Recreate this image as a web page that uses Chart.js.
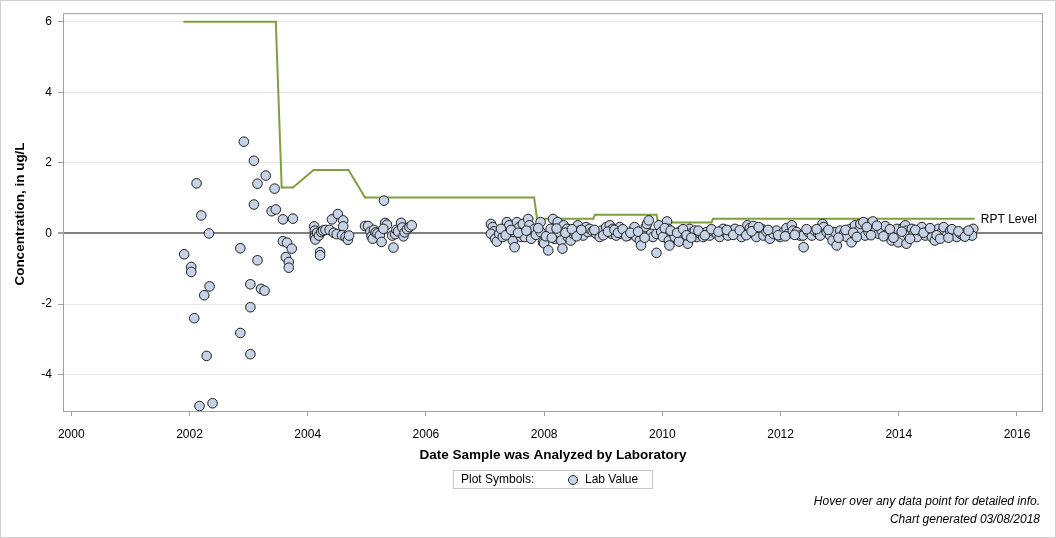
<!DOCTYPE html>
<html>
<head>
<meta charset="utf-8">
<script src="https://cdn.jsdelivr.net/npm/chart.js@4/dist/chart.umd.min.js"></script>
<style>
  html, body { margin: 0; padding: 0; background: #fff; }
  #wrap { width: 1056px; height: 538px; position: relative; }
</style>
</head>
<body>
<div id="wrap"><canvas id="chart" width="1056" height="538"></canvas></div>
<script>
'use strict';

// lab results: decimal year of analysis, concentration (ug/L)
const labDates = [
    2001.91, 2002.03, 2002.03, 2002.12, 2002.20, 2002.33, 2002.34, 2002.25, 2002.08, 2002.29, 2002.17, 2002.39,
    2002.92, 2003.09, 2003.29, 2003.15, 2003.44, 2003.09, 2003.39, 2003.46, 2003.58, 2003.75, 2002.86, 2003.15,
    2003.58, 2003.65, 2003.73, 2003.63, 2003.68, 2003.68, 2003.03, 2003.21, 2003.27, 2003.03, 2002.86, 2003.03,
    2004.11, 2004.12, 2004.12, 2004.12, 2004.13, 2004.21, 2004.21, 2004.16, 2004.19, 2004.23, 2004.26, 2004.30,
    2004.37, 2004.41, 2004.44, 2004.51, 2004.49, 2004.60, 2004.60, 2004.58, 2004.64, 2004.68, 2004.70,
    2004.97, 2005.02, 2005.06, 2005.08, 2005.10, 2005.12, 2005.15, 2005.18, 2005.22, 2005.25, 2005.29, 2005.31,
    2005.34, 2005.28, 2005.45, 2005.43, 2005.48, 2005.50, 2005.53, 2005.58, 2005.60, 2005.62, 2005.64, 2005.68,
    2005.72, 2005.76,
    2007.10, 2007.13, 2007.15, 2007.10, 2007.17, 2007.20, 2007.24, 2007.30, 2007.33, 2007.37, 2007.41, 2007.47,
    2007.50, 2007.49, 2007.54, 2007.58, 2007.61, 2007.67, 2007.64, 2007.73, 2007.75, 2007.78, 2007.84, 2007.86,
    2007.94, 2007.94, 2007.98, 2008.00, 2008.07, 2008.11, 2008.15, 2008.18, 2008.23, 2008.23, 2008.29, 2008.31,
    2008.33, 2008.39, 2008.40, 2008.45, 2008.49, 2008.51, 2008.57, 2008.60, 2008.66, 2008.71, 2008.74,
    2008.77, 2008.82, 2008.88, 2008.94, 2008.97, 2009.05, 2009.11, 2009.14, 2009.16, 2009.22, 2009.28, 2009.31,
    2009.36, 2009.42, 2009.50, 2009.53, 2009.56, 2009.62, 2009.64, 2009.67, 2009.72, 2009.74, 2009.77, 2009.81,
    2009.84, 2009.90, 2009.90, 2009.94, 2009.98, 2010.01, 2010.08, 2010.10, 2010.11, 2010.12, 2010.17, 2010.21,
    2010.28, 2010.32, 2010.38, 2010.43, 2010.46, 2010.52,
    2010.55, 2010.58, 2010.64, 2010.69, 2010.75, 2010.80, 2010.86, 2010.92, 2010.97, 2011.03, 2011.06, 2011.11,
    2011.17, 2011.23, 2011.28, 2011.34, 2011.39, 2011.44, 2011.48, 2011.54, 2011.56, 2011.59, 2011.68, 2011.71,
    2011.76, 2011.82, 2011.88, 2011.93, 2011.99, 2012.05, 2012.10, 2012.13, 2012.19, 2012.21, 2012.27, 2012.33,
    2012.38, 2012.39, 2012.47, 2012.53, 2012.58, 2012.64, 2012.67, 2012.71, 2012.73, 2012.78, 2012.84, 2012.88,
    2012.92, 2012.95, 2013.01, 2013.07, 2013.12, 2013.18, 2013.20, 2013.26, 2013.32, 2013.35, 2013.40, 2013.43,
    2013.49, 2013.56, 2013.60, 2013.66, 2013.71, 2013.77, 2013.82, 2013.88, 2013.94, 2013.97, 2013.99,
    2014.08, 2014.11, 2014.13, 2014.13, 2014.16, 2014.22, 2014.25, 2014.31, 2014.36, 2014.39, 2014.45, 2014.50,
    2014.56, 2014.61, 2014.67, 2014.73, 2014.76, 2014.81, 2014.87, 2014.93, 2014.98, 2015.04, 2015.09, 2015.15,
    2015.20, 2015.26, 2015.24,
    // overlapping circles inside the dense band
    2007.27, 2007.35, 2007.44, 2007.56, 2007.70, 2007.90, 2008.03, 2008.13, 2008.21, 2008.36, 2008.47, 2008.55,
    2008.63, 2008.85, 2009.00, 2009.08, 2009.19, 2009.25, 2009.33, 2009.39, 2009.46, 2009.59, 2009.70, 2010.04,
    2010.14, 2010.25, 2010.35, 2010.41, 2010.49, 2010.61, 2010.72, 2010.83, 2010.95, 2011.09, 2011.20, 2011.31,
    2011.42, 2011.51, 2011.63, 2011.79, 2011.96, 2012.08, 2012.24, 2012.44, 2012.61, 2012.81, 2012.98, 2013.10,
    2013.23, 2013.29, 2013.46, 2013.53, 2013.63, 2013.74, 2013.85, 2013.91, 2014.05, 2014.19, 2014.28, 2014.42,
    2014.53, 2014.64, 2014.70, 2014.84, 2014.90, 2015.01, 2015.12, 2015.18
];
const labValues = [
    -0.59, -0.95, -1.09, 1.42, 0.51, 0.00, -1.50, -1.75, -2.40, -3.47, -4.89, -4.81,
    2.60, 2.06, 1.64, 1.41, 1.27, 0.82, 0.63, 0.68, 0.40, 0.42, -0.42, -0.76,
    -0.22, -0.26, -0.43, -0.67, -0.81, -0.97, -1.44, -1.57, -1.62, -2.09, -2.82, -3.42,
    0.20, 0.08, -0.04, -0.10, -0.17, -0.53, -0.62, 0.02, -0.06, 0.04, 0.08, 0.10,
    0.10, 0.40, 0.02, 0.55, -0.02, 0.37, 0.20, -0.05, -0.10, -0.18, -0.06,
    0.21, 0.21, 0.05, -0.08, -0.15, 0.10, 0.03, 0.00, -0.05, -0.24, 0.93, 0.30,
    0.25, 0.13, -0.40, -0.06, -0.02, 0.10, 0.06, 0.30, 0.17, -0.08, 0.03, 0.12,
    0.18, 0.23,
    0.27, 0.18, 0.06, -0.01, -0.15, -0.23, -0.01, -0.10, 0.08, 0.32, 0.23, -0.20,
    -0.39, 0.04, 0.32, 0.18, -0.10, -0.10, 0.27, 0.41, 0.23, -0.15, 0.13, -0.04,
    0.32, 0.04, -0.25, -0.28, -0.48, 0.13, 0.41, -0.15, 0.32, 0.04, -0.20, -0.43,
    0.23, 0.13, -0.10, -0.20, -0.01, 0.04, 0.23, 0.08, -0.06, 0.18, 0.04,
    0.13, 0.06, -0.01, -0.10, 0.08, 0.18, 0.23, -0.01, 0.13, -0.06, 0.18, -0.01,
    0.04, -0.06, 0.08, 0.18, -0.10, -0.20, -0.34, -0.01, 0.18, 0.27, 0.37, -0.01,
    -0.10, -0.55, -0.01, 0.23, 0.04, -0.10, 0.34, 0.13, -0.20, -0.34, 0.04, -0.10,
    -0.23, 0.08, -0.01, -0.29, 0.13, 0.04,
    0.08, -0.10, -0.01, -0.10, 0.04, -0.06, 0.06, -0.01, -0.10, 0.13, 0.04, -0.06,
    0.08, 0.13, -0.01, -0.10, 0.04, 0.23, 0.15, 0.21, 0.04, -0.10, 0.13, -0.06,
    0.06, -0.15, -0.01, 0.08, -0.10, 0.04, 0.15, -0.01, 0.23, 0.08, 0.04, -0.06,
    -0.06, -0.39, 0.04, -0.06, 0.08, -0.01, -0.06, 0.27, 0.18, 0.04, -0.06, -0.20,
    0.04, -0.34, 0.08, -0.01, -0.10, 0.13, -0.25, 0.23, 0.08, 0.27, 0.32, -0.06,
    0.04, 0.34, 0.13, -0.01, 0.08, 0.21, -0.06, -0.20, 0.04, 0.13, -0.25,
    0.18, 0.23, 0.08, -0.29, -0.06, 0.13, -0.01, -0.10, 0.08, 0.18, -0.06, 0.08,
    -0.10, -0.20, 0.13, 0.04, 0.18, -0.06, 0.08, 0.04, -0.10, -0.01, -0.06, 0.04,
    -0.01, 0.13, -0.06,
    0.13, -0.05, 0.10, 0.02, 0.08, 0.15, -0.08, -0.12, 0.14, 0.02, 0.12, -0.08,
    0.10, 0.10, -0.05, 0.05, 0.10, 0.02, 0.12, -0.08, 0.02, 0.05, -0.12, 0.15,
    0.08, 0.02, 0.12, -0.05, -0.12, 0.08, -0.05, 0.12, 0.05, 0.10, -0.04, 0.09,
    -0.05, 0.06, 0.18, 0.10, -0.05, -0.08, -0.04, 0.12, 0.12, 0.10, -0.12, 0.10,
    0.02, -0.10, 0.18, -0.05, 0.22, -0.08, 0.12, -0.12, 0.05, -0.15, 0.10, 0.02,
    0.15, -0.05, -0.15, -0.12, 0.12, 0.06, -0.09, 0.08
];

// reporting level step line
const rptDates = [2001.91, 2003.46, 2003.56, 2003.75, 2004.10, 2004.69, 2004.97, 2007.83, 2007.88, 2008.83, 2008.86, 2009.90, 2009.93, 2010.83, 2010.86, 2015.27];
const rptValues = [6.0, 6.0, 1.3, 1.3, 1.8, 1.8, 1.02, 1.02, 0.42, 0.42, 0.53, 0.53, 0.31, 0.31, 0.42, 0.42];

const xTicks = [2000, 2002, 2004, 2006, 2008, 2010, 2012, 2014, 2016];
const yTicks = [-4, -2, 0, 2, 4, 6];

const FONT = '"Liberation Sans", Arial, sans-serif';

const labPoints = labDates.map((d, i) => ({ x: d, y: labValues[i] }));
const rptPoints = rptDates.map((d, i) => ({ x: d, y: rptValues[i] }));

const decor = {
    id: 'decor',
    beforeDraw(chart) {
        const c = chart.ctx;
        c.save();
        c.fillStyle = '#fff';
        c.fillRect(0, 0, chart.width, chart.height);
        c.restore();
    },
    afterDraw(chart) {
        const c = chart.ctx;
        const a = chart.chartArea;
        c.save();

        // plot frame + outer frame
        c.strokeStyle = '#a0a0a0';
        c.lineWidth = 1;
        c.strokeRect(a.left + 0.5, a.top + 0.5, a.right - a.left - 1, a.bottom - a.top);
        c.strokeStyle = '#d0d0d0';
        c.strokeRect(0.5, 0.5, chart.width - 1, chart.height - 1);

        // axis titles
        c.fillStyle = '#000';
        c.font = 'bold 13.5px ' + FONT;
        c.textAlign = 'center';
        c.textBaseline = 'middle';
        c.fillText('Date Sample was Analyzed by Laboratory', (a.left + a.right) / 2, 455);
        c.save();
        c.translate(20, 214);
        c.rotate(-Math.PI / 2);
        c.fillText('Concentration, in ug/L', 0, 0);
        c.restore();

        // RPT Level label at end of line
        const xs = chart.scales.x, ys = chart.scales.y;
        const last = rptPoints[rptPoints.length - 1];
        c.font = '12px ' + FONT;
        c.textAlign = 'left';
        c.fillText('RPT Level', xs.getPixelForValue(last.x) + 7, ys.getPixelForValue(last.y) + 1);

        // legend box
        c.strokeStyle = '#c8c8c8';
        c.strokeRect(453.5, 470.5, 199, 18);
        c.fillStyle = '#000';
        c.fillText('Plot Symbols:', 461, 480);
        c.beginPath();
        c.arc(573, 480, 4.5, 0, Math.PI * 2);
        c.fillStyle = '#c6d3e6';
        c.fill();
        c.strokeStyle = '#222';
        c.stroke();
        c.fillStyle = '#000';
        c.fillText('Lab Value', 585, 480);

        // footnotes
        c.font = 'italic 12px ' + FONT;
        c.textAlign = 'right';
        c.fillText('Hover over any data point for detailed info.', 1040, 502);
        c.fillText('Chart generated 03/08/2018', 1040, 520);
        c.restore();
    }
};

new Chart(document.getElementById('chart'), {
    type: 'scatter',
    data: {
        datasets: [
            {
                label: 'Lab Value',
                data: labPoints,
                backgroundColor: '#c6d3e6',
                borderColor: '#1e1e1e',
                borderWidth: 1,
                pointRadius: 4.8,
                order: 1
            },
            {
                type: 'line',
                label: 'RPT Level',
                data: rptPoints,
                borderColor: '#7fa03f',
                backgroundColor: '#7fa03f',
                borderWidth: 2,
                pointRadius: 1,
                pointBorderWidth: 0,
                fill: false,
                tension: 0,
                order: 2
            }
        ]
    },
    options: {
        responsive: false,
        animation: false,
        events: [],
        layout: { padding: { left: 0, top: 12, right: 13, bottom: 97 } },
        plugins: {
            legend: { display: false },
            tooltip: { enabled: false }
        },
        scales: {
            x: {
                type: 'linear',
                min: 1999.86,
                max: 2016.44,
                afterBuildTicks(scale) {
                    scale.ticks = xTicks.map(v => ({ value: v }));
                },
                afterFit(scale) { scale.height = 30; },
                grid: {
                    drawOnChartArea: false,
                    drawTicks: true,
                    tickLength: 5,
                    color: '#a0a0a0'
                },
                border: { display: false },
                ticks: {
                    padding: 11,
                    color: '#000',
                    font: { family: FONT, size: 12 },
                    maxRotation: 0,
                    callback: v => String(v)
                }
            },
            y: {
                min: -5.03,
                max: 6.24,
                afterBuildTicks(scale) {
                    scale.ticks = yTicks.map(v => ({ value: v }));
                },
                afterFit(scale) { scale.width = 63; },
                grid: {
                    color: ctx => ctx.tick && ctx.tick.value === 0 ? '#808080' : '#e4e4e4',
                    lineWidth: ctx => ctx.tick && ctx.tick.value === 0 ? 2 : 1,
                    tickColor: '#a0a0a0',
                    tickLength: 5,
                    drawTicks: true
                },
                border: { display: false },
                ticks: {
                    padding: 6,
                    color: '#000',
                    font: { family: FONT, size: 12 },
                    callback: v => String(v)
                }
            }
        }
    },
    plugins: [decor]
});
</script>
</body>
</html>
